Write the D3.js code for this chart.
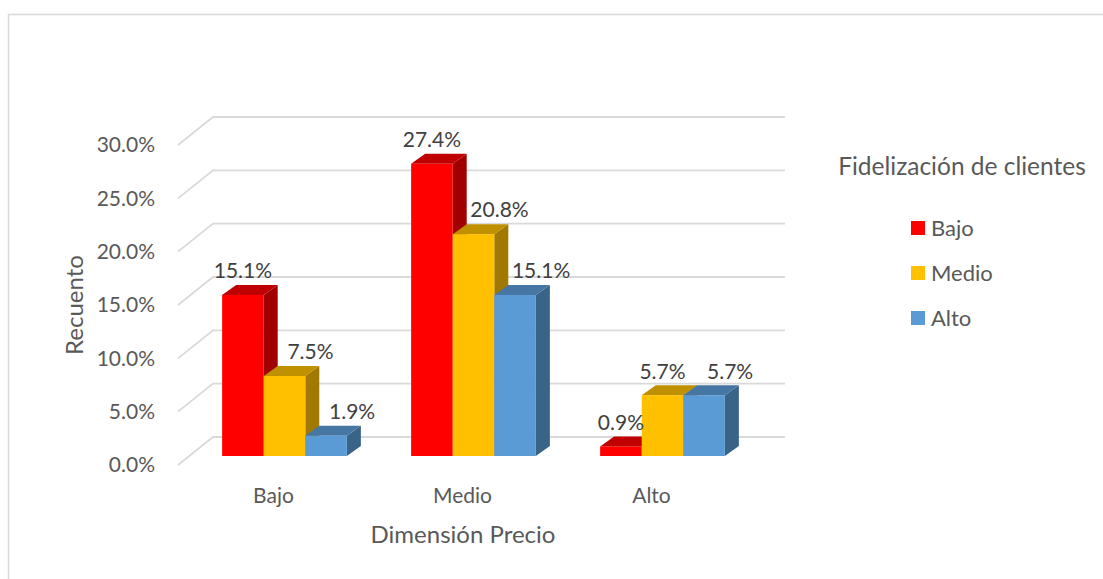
<!DOCTYPE html>
<html><head><meta charset="utf-8">
<script src="https://cdn.jsdelivr.net/npm/d3@7"></script>
<style>
html,body{margin:0;padding:0;background:#fff;}
text{font-family:Lato,"Open Sans",sans-serif;}
</style></head>
<body><svg id="c" width="1103" height="579"></svg>
<script>
const categories = ["Bajo","Medio","Alto"];
const series = ["Bajo","Medio","Alto"];
const valuesBajo = [15.1, 27.4, 0.9];
const valuesMedio = [7.5, 20.8, 5.7];
const valuesAlto = [1.9, 15.1, 5.7];
const yTicks = [0,5,10,15,20,25,30];
const seriesValues = [valuesBajo, valuesMedio, valuesAlto];

const colors = ["#ff0000","#ffc000","#5b9bd5"];
const topColors = ["#c00000","#bf9000","#4676a3"];
const sideColors = ["#a00000","#a17900","#3a6388"];

const svg = d3.select("#c");
// frame
svg.append("path").attr("d","M8.5,600 V14.5 H1110").attr("fill","none").attr("stroke","#d9d9d9").attr("stroke-width",1.5);

const y = d3.scaleLinear().domain([0,30]).range([456,136]);
const x = d3.scaleBand().domain(categories).range([190,757]).paddingInner(0.34).paddingOuter(0.17);
const xs = d3.scaleBand().domain(series).range([0,x.bandwidth()]);

// perspective offsets
const backDx = 24, backDy = -19;   // bar plane -> back wall
const frontDx = -11, frontDy = 9;  // bar plane -> front edge
const depthDx = 14, depthDy = -10; // bar depth
const wallLeft = 213, wallRight = 785;

// gridlines
const grid = svg.append("g");
yTicks.forEach(t=>{
  const yb = y(t)+backDy, yf = y(t)+frontDy;
  grid.append("path")
    .attr("d",`M${wallLeft-35},${yf} L${wallLeft},${yb} H${wallRight}`)
    .attr("fill","none").attr("stroke","#d9d9d9").attr("stroke-width",1.8);
  svg.append("text").attr("x",155).attr("y",yf).attr("dy","0.35em")
    .attr("text-anchor","end").attr("font-size",21).attr("fill","#595959")
    .text(t.toFixed(1)+"%");
});

// bars: draw series in order so later bars overlap earlier side faces
const bars = svg.append("g");
const labels = [];
categories.forEach((c,ci)=>{
  series.forEach((s,si)=>{
    const v = seriesValues[si][ci];
    const x0 = x(c)+xs(s), x1 = x0+xs.bandwidth();
    const yt = y(v), yb = y(0);
    // side face
    bars.append("path").attr("d",`M${x1},${yb} L${x1},${yt} L${x1+depthDx},${yt+depthDy} L${x1+depthDx},${yb+depthDy} Z`).attr("fill",sideColors[si]);
    // top face
    bars.append("path").attr("d",`M${x0},${yt} L${x0+depthDx},${yt+depthDy} L${x1+depthDx},${yt+depthDy} L${x1},${yt} Z`).attr("fill",topColors[si]);
    // front face
    bars.append("rect").attr("x",x0).attr("y",yt).attr("width",x1-x0).attr("height",yb-yt).attr("fill",colors[si]);
    const prev = si>0 ? seriesValues[si-1][ci] : -1;
    const shift = prev >= v ? 26 : 0;
    labels.push({x:(x0+x1)/2+shift, y:yt+depthDy-14, t:v.toFixed(1)+"%"});
  });
});
labels.forEach(l=>{
  svg.append("text").attr("x",l.x).attr("y",l.y).attr("dy","0.35em").attr("text-anchor","middle")
    .attr("font-size",21).attr("fill","#404040").text(l.t);
});

// category labels
categories.forEach(c=>{
  svg.append("text").attr("x",x(c)+x.bandwidth()/2+frontDx).attr("y",496).attr("dy","0.35em")
    .attr("text-anchor","middle").attr("font-size",21).attr("fill","#595959").text(c);
});

// axis titles
svg.append("text").attr("transform","translate(75,305) rotate(-90)").attr("dy","0.35em")
  .attr("text-anchor","middle").attr("font-size",24).attr("fill","#595959").text("Recuento");
svg.append("text").attr("x",463).attr("y",535).attr("dy","0.35em")
  .attr("text-anchor","middle").attr("font-size",24).attr("fill","#595959").text("Dimensión Precio");

// legend
svg.append("text").attr("x",962).attr("y",166).attr("dy","0.35em").attr("text-anchor","middle")
  .attr("font-size",24.5).attr("fill","#595959").text("Fidelización de clientes");
series.forEach((s,i)=>{
  const cy = 228 + i*45;
  svg.append("rect").attr("x",911).attr("y",cy-7).attr("width",14).attr("height",14).attr("fill",colors[i]);
  svg.append("text").attr("x",931).attr("y",cy).attr("dy","0.35em").attr("font-size",22).attr("fill","#595959").text(s);
});
</script></body></html>
